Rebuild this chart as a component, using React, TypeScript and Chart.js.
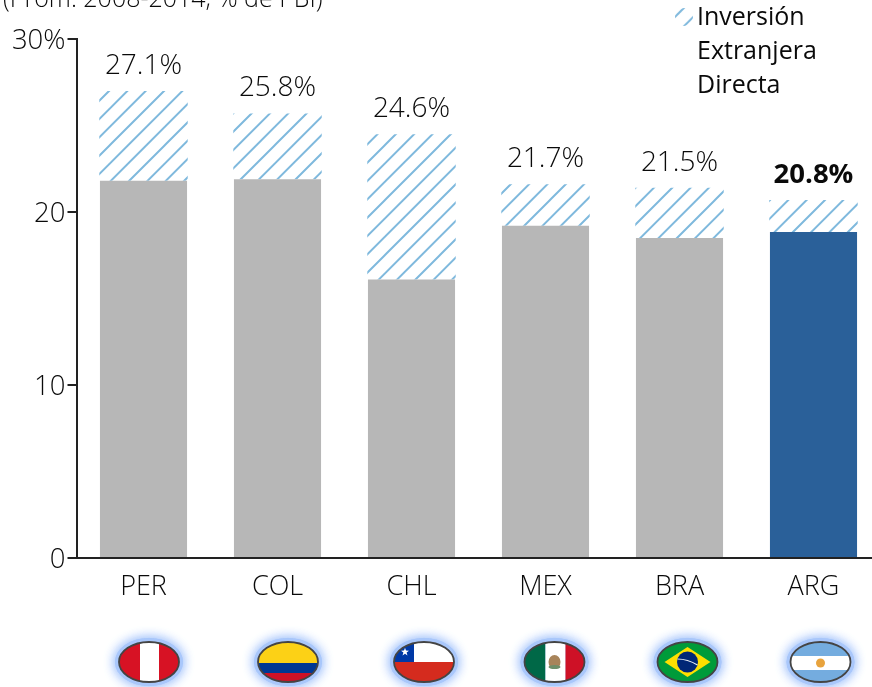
import React, { useEffect, useRef } from "react";
import { Chart, registerables } from "chart.js";

Chart.register(...registerables);

const categories = ["PER", "COL", "CHL", "MEX", "BRA", "ARG"];
const baseValues = [21.8, 21.9, 16.1, 19.2, 18.5, 18.85];
const fdiValues = [5.2, 3.8, 8.4, 2.4, 2.9, 1.85];
const totalLabels = ["27.1%", "25.8%", "24.6%", "21.7%", "21.5%", "20.8%"];
const yTicks = [0, 10, 20, 30];
const legendLines = ["Inversión", "Extranjera", "Directa"];
const titleText = "(Prom. 2008-2014, % de PBI)";
const flagShift = [5.5, 10.5, 12.5, 9, 8, 7];

const FONT = '"Open Sans"';
const INK = "#0a0a0a";
const OFFSET_Y = 20;

function hatch(): CanvasPattern {
  const s = 55;
  const c = document.createElement("canvas");
  c.width = s;
  c.height = s;
  const g = c.getContext("2d")!;
  g.fillStyle = "#ffffff";
  g.fillRect(0, 0, s, s);
  g.strokeStyle = "#7fb9dd";
  g.lineWidth = 2;
  g.beginPath();
  for (let k = -s; k <= s; k += s / 3) {
    g.moveTo(k - 2, s + 2);
    g.lineTo(k + s + 2, -2);
  }
  g.stroke();
  return g.createPattern(c, "repeat")!;
}

function drawFlag(ctx: CanvasRenderingContext2D, code: string, cx: number, cy: number) {
  const rx = 30;
  const ry = 20;
  const l = cx - rx;
  const t = cy - ry;
  const w = rx * 2;
  const h = ry * 2;
  ctx.save();
  ctx.shadowColor = "#a9c7fb";
  ctx.shadowBlur = 12;
  ctx.fillStyle = "#a9c7fb";
  ctx.beginPath();
  ctx.ellipse(cx, cy, rx + 4, ry + 4, 0, 0, Math.PI * 2);
  ctx.fill();
  ctx.fill();
  ctx.restore();

  ctx.save();
  ctx.beginPath();
  ctx.ellipse(cx, cy, rx, ry, 0, 0, Math.PI * 2);
  ctx.clip();
  const rect = (c: string, x: number, y: number, ww: number, hh: number) => {
    ctx.fillStyle = c;
    ctx.fillRect(x, y, ww, hh);
  };
  if (code === "PER") {
    rect("#d71224", l, t, w, h);
    rect("#ffffff", l + w / 3 + 1, t, w / 3 - 1, h);
  } else if (code === "COL") {
    rect("#fcd116", l, t, w, 21);
    rect("#003893", l, t + 21, w, 10);
    rect("#ce1126", l, t + 31, w, 10);
  } else if (code === "CHL") {
    rect("#ffffff", l, t, w, h);
    rect("#d52b1e", l, cy, w, ry);
    rect("#0039a6", l, t, 20, ry);
    ctx.fillStyle = "#ffffff";
    ctx.beginPath();
    for (let i = 0; i < 10; i++) {
      const r = i % 2 ? 1.7 : 4.2;
      const a = -Math.PI / 2 + (i * Math.PI) / 5;
      ctx.lineTo(l + 11 + r * Math.cos(a), t + 10 + r * Math.sin(a));
    }
    ctx.closePath();
    ctx.fill();
  } else if (code === "MEX") {
    rect("#006847", l, t, 21, h);
    rect("#ffffff", l + 21, t, 20, h);
    rect("#ce1126", l + 41, t, 20, h);
    ctx.fillStyle = "#a8845a";
    ctx.beginPath();
    ctx.ellipse(cx, cy, 6, 7, 0, 0, Math.PI * 2);
    ctx.fill();
    ctx.fillStyle = "#6f8f6a";
    ctx.beginPath();
    ctx.ellipse(cx, cy + 5, 6, 2, 0, 0, Math.PI * 2);
    ctx.fill();
  } else if (code === "BRA") {
    rect("#009b3a", l, t, w, h);
    ctx.fillStyle = "#fedf00";
    ctx.beginPath();
    ctx.moveTo(l + 7, cy);
    ctx.lineTo(cx, t + 5);
    ctx.lineTo(l + w - 7, cy);
    ctx.lineTo(cx, t + h - 5);
    ctx.closePath();
    ctx.fill();
    ctx.fillStyle = "#002776";
    ctx.beginPath();
    ctx.arc(cx, cy, 10.5, 0, Math.PI * 2);
    ctx.fill();
    ctx.strokeStyle = "#e8eef2";
    ctx.lineWidth = 1.2;
    ctx.beginPath();
    ctx.moveTo(cx - 10, cy - 3);
    ctx.quadraticCurveTo(cx, cy - 3, cx + 10, cy + 3);
    ctx.stroke();
  } else {
    rect("#74acdf", l, t, w, h);
    rect("#ffffff", l, t + 14, w, 14);
    ctx.fillStyle = "#e8a33d";
    ctx.beginPath();
    ctx.arc(cx, cy + 1, 4.5, 0, Math.PI * 2);
    ctx.fill();
  }
  ctx.restore();

  ctx.strokeStyle = "#444444";
  ctx.lineWidth = 1.8;
  ctx.beginPath();
  ctx.ellipse(cx, cy, rx, ry, 0, 0, Math.PI * 2);
  ctx.stroke();
}

export default function App() {
  const ref = useRef<HTMLCanvasElement>(null);

  useEffect(() => {
    const pattern = hatch();
    const overlay = {
      id: "overlay",
      afterDatasetsDraw(chart: any) {
        const { ctx, scales } = chart;
        const x = scales.x;
        const y = scales.y;
        ctx.save();
        ctx.textAlign = "center";
        ctx.textBaseline = "alphabetic";
        ctx.fillStyle = INK;
        categories.forEach((cat, i) => {
          const top = y.getPixelForValue(baseValues[i] + fdiValues[i]);
          ctx.font = i === 5 ? `700 27.5px ${FONT}` : `300 28px ${FONT}`;
          ctx.fillStyle = INK;
          ctx.fillText(totalLabels[i], x.getPixelForValue(i), top - 17);
          drawFlag(ctx, cat, x.getPixelForValue(i) + flagShift[i], 662 + OFFSET_Y);
        });
        ctx.textAlign = "left";
        ctx.fillStyle = INK;
        ctx.font = `300 25px ${FONT}`;
        ctx.fillText(titleText, 3, 7 + OFFSET_Y);
        ctx.font = `400 25px ${FONT}`;
        legendLines.forEach((line, i) => {
          ctx.fillText(line, 697, 25 + OFFSET_Y + i * 34);
        });
        ctx.save();
        ctx.beginPath();
        ctx.ellipse(684, 17 + OFFSET_Y, 9, 9, 0, 0, Math.PI * 2);
        ctx.translate(-3.17, 0);
        ctx.fillStyle = pattern;
        ctx.fill();
        ctx.restore();
        ctx.restore();
      },
    };
    const chart = new Chart(ref.current!, {
      type: "bar",
      data: {
        labels: categories,
        datasets: [
          {
            label: "Base",
            data: baseValues,
            backgroundColor: ["#b7b7b7", "#b7b7b7", "#b7b7b7", "#b7b7b7", "#b7b7b7", "#2a6099"],
            stack: "s",
            categoryPercentage: 1,
            barPercentage: 0.65,
          },
          {
            label: "Inversión Extranjera Directa",
            data: fdiValues,
            backgroundColor: pattern,
            stack: "s",
            categoryPercentage: 1,
            barPercentage: 0.66,
          },
        ],
      },
      options: {
        responsive: false,
        animation: false,
        layout: { padding: { top: 39 + OFFSET_Y, right: 19.5, left: 0, bottom: 0 } },
        plugins: { legend: { display: false }, title: { display: false }, tooltip: { enabled: false } },
        scales: {
          x: {
            stacked: true,
            afterFit: (s: any) => {
              s.height = 129;
            },
            grid: { display: false },
            border: { color: "#222222", width: 2 },
            ticks: {
              color: INK,
              padding: 5,
              maxRotation: 0,
              font: { family: FONT, size: 27, weight: "300" },
            },
          },
          y: {
            stacked: true,
            min: 0,
            max: 30,
            afterFit: (s: any) => {
              s.width = 76.5;
            },
            afterBuildTicks: (s: any) => {
              s.ticks = yTicks.map((value) => ({ value }));
            },
            border: { color: "#222222", width: 2 },
            grid: { drawOnChartArea: false, drawTicks: true, tickLength: 9, color: "#222222", lineWidth: 2 },
            ticks: {
              color: INK,
              padding: 2,
              labelOffset: 2,
              font: { family: FONT, size: 27.5, weight: "300" },
              callback: (v: any) => (v === 30 ? "30%" : String(v)),
            },
          },
        },
      },
      plugins: [overlay],
    });
    return () => chart.destroy();
  }, []);

  return (
    <div style={{ position: "fixed", left: 0, top: 0, width: 872, height: 687, overflow: "hidden", background: "#fff" }}>
      <canvas
        ref={ref}
        width={900}
        height={687 + OFFSET_Y}
        style={{ position: "absolute", left: 0, top: -OFFSET_Y, width: 900, height: 687 + OFFSET_Y }}
      />
    </div>
  );
}
